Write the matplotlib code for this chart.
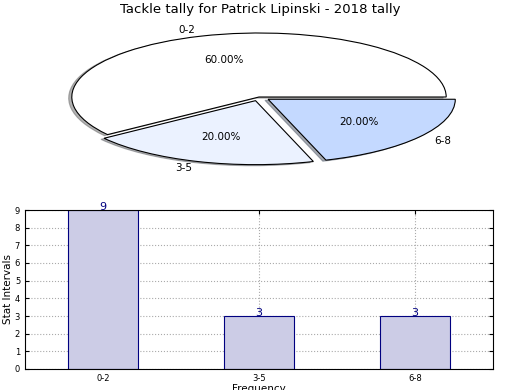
import matplotlib
matplotlib.use("Agg")
import matplotlib.pyplot as plt
import numpy as np

# data
intervals = ["0-2", "3-5", "6-8"]
counts = [9, 3, 3]
pie_colors = ["#ffffff", "#ebf2ff", "#c4d9ff"]
explode = [0, 0.06, 0.06]

title = "Tackle tally for Patrick Lipinski - 2018 tally"

fig = plt.figure(figsize=(5.2, 3.9), dpi=100)

# -----------------------------
# PIE
# -----------------------------
ax1 = fig.add_axes([25 / 520, 1 - 177 / 390, 468 / 520, 160 / 390])
wedges, texts, autotexts = ax1.pie(
    counts, labels=intervals, colors=pie_colors, explode=explode,
    autopct="%.2f%%", shadow={"ox": -0.012, "oy": -0.012, "shade": 0.6},
    startangle=0,
    wedgeprops={"edgecolor": "black", "linewidth": 0.8},
    textprops={"fontsize": 7.5},
)
ax1.set_aspect("auto")
ax1.set_xlim(-1.25, 1.25)
ax1.set_ylim(-1.25, 1.25)
fig.text(0.5, 1 - 10 / 390, title, ha="center", va="center", fontsize=9.5)

# -----------------------------
# BAR
# -----------------------------
ax2 = fig.add_axes([25 / 520, 21 / 390, 468 / 520, 159 / 390])
x = np.arange(len(intervals))
bars = ax2.bar(x, counts, width=0.45, color="#ccccE6", edgecolor="#000080",
               linewidth=0.8, zorder=2)
for b, v in zip(bars, counts):
    ax2.text(b.get_x() + b.get_width() / 2, v - 0.1, str(v), ha="center",
             va="bottom", color="#000080", fontsize=8)
ax2.set_xlim(-0.5, 2.5)
ax2.set_ylim(0, 9)
ax2.set_xticks(x)
ax2.set_xticklabels(intervals)
ax2.set_yticks(range(0, 10))
ax2.tick_params(direction="in", top=True, right=True, labelsize=6, length=3)
ax2.grid(True, linestyle=":", color="#aaaaaa", linewidth=0.8, zorder=0)
ax2.set_axisbelow(True)
ax2.set_ylabel("Stat Intervals", fontsize=7.5, labelpad=1)
ax2.set_xlabel("Frequency", fontsize=7.5, labelpad=1)

plt.savefig("out.png", dpi=100)
